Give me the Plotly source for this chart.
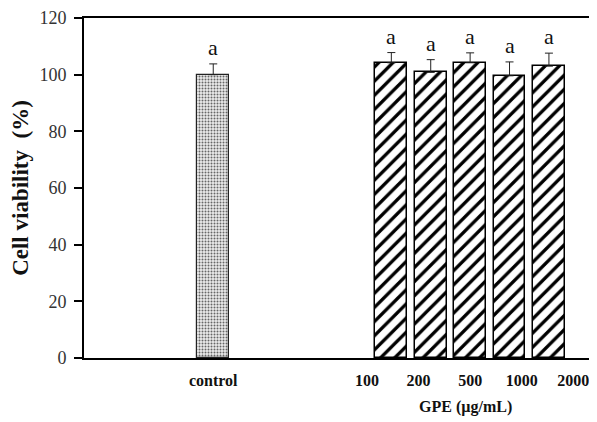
import plotly.graph_objects as go

categories = ["control", "100", "200", "500", "1000", "2000"]
viability = [100.0, 104.2, 100.8, 104.2, 99.6, 103.0]
errors = [3.8, 3.6, 4.5, 3.5, 4.9, 4.6]
letters = ["a", "a", "a", "a", "a", "a"]
y_ticks = [0, 20, 40, 60, 80, 100, 120]

FONT = "Liberation Serif, Times New Roman, serif"

# layout positions (units = bar spacing)
ctrl_x = 0.0
gpe_start = 4.52
bar_x = [ctrl_x] + [gpe_start + i for i in range(len(categories) - 1)]
label_x = [ctrl_x] + [3.90 + 1.31 * i for i in range(len(categories) - 1)]
bw = 0.81

fig = go.Figure()
fig.add_trace(go.Bar(
    x=bar_x[:1], y=viability[:1], width=bw,
    marker=dict(color="white", line=dict(color="#222", width=1.2),
                pattern=dict(shape=".", fgcolor="#666", bgcolor="#ececec", size=3,
                             solidity=0.35, fgopacity=1, fillmode="replace")),
    error_y=dict(type="data", symmetric=False, array=errors[:1], arrayminus=[0],
                 color="#222", thickness=1, width=4),
    showlegend=False))
fig.add_trace(go.Bar(
    x=bar_x[1:], y=viability[1:], width=bw,
    marker=dict(color="white", line=dict(color="black", width=1.5),
                pattern=dict(shape="/", fgcolor="black", bgcolor="white", size=10,
                             solidity=0.33, fgopacity=1, fillmode="replace")),
    error_y=dict(type="data", symmetric=False, array=errors[1:], arrayminus=[0] * 5,
                 color="#222", thickness=1, width=4),
    showlegend=False))

for xv, v, e, t in zip(bar_x, viability, errors, letters):
    fig.add_annotation(x=xv, y=v + e, text=t, showarrow=False, yanchor="bottom",
                       yshift=2, font=dict(family=FONT, size=22, color="#111"))

fig.add_annotation(x=6.39, xref="x", y=-0.145, yref="paper", yanchor="middle",
                   text="<b>GPE (µg/mL)</b>", showarrow=False,
                   font=dict(family=FONT, size=16, color="#111"))

fig.update_layout(
    width=589, height=414,
    margin=dict(l=76, r=0, t=8, b=64),
    plot_bgcolor="white", paper_bgcolor="white",
    bargap=0,
    xaxis=dict(range=[-3.28, 9.74], showline=True, linecolor="black", linewidth=2,
               mirror=True, showgrid=False, zeroline=False, ticks="",
               tickvals=label_x, ticktext=["<b>%s</b>" % c for c in categories],
               tickfont=dict(family=FONT, size=16, color="#111"), ticklabelstandoff=7),
    yaxis=dict(range=[0, 120], tickvals=y_ticks, showline=True, linecolor="black",
               linewidth=2, showgrid=False, zeroline=False, ticks="outside", ticklen=8,
               tickcolor="black", tickwidth=1.5, ticklabeloverflow="allow",
               ticklabelstandoff=4,
               tickfont=dict(family=FONT, size=18, color="#333"),
               title=dict(text="<b>Cell viability  (%)</b>", standoff=12,
                          font=dict(family=FONT, size=23, color="#111"))),
)

fig.write_html("out.html")
